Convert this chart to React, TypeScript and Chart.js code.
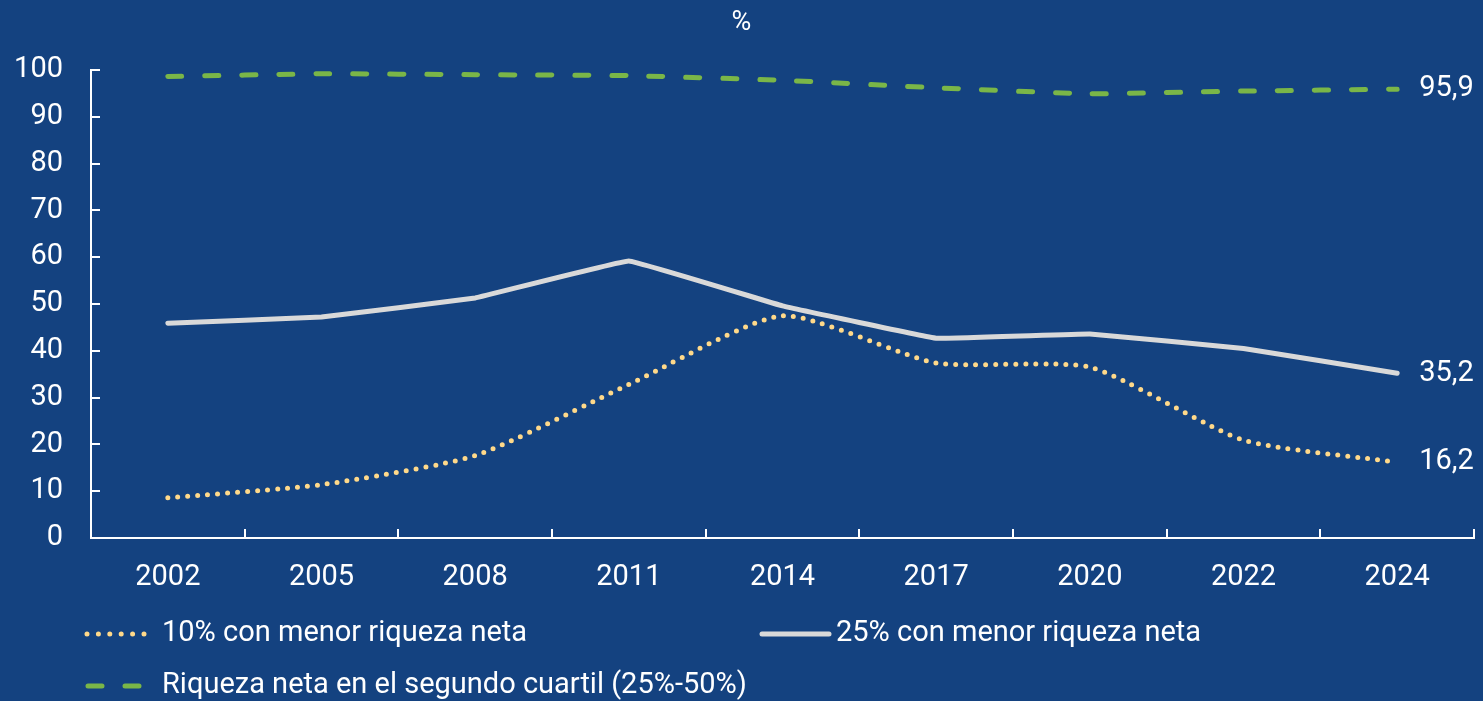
import React, { useEffect, useRef } from 'react';
import { Chart, registerables } from 'chart.js';

Chart.register(...registerables);

const years = ['2002', '2005', '2008', '2011', '2014', '2017', '2020', '2022', '2024'];
const bottom10 = [8.6, 11.4, 17.6, 32.8, 47.5, 37.4, 36.5, 20.9, 16.2];
const bottom25 = [45.9, 47.2, 51.3, 59.2, 49.6, 42.7, 43.6, 40.5, 35.2];
const secondQuartile = [98.6, 99.2, 99.0, 98.8, 97.8, 96.2, 94.9, 95.5, 95.9];
const yTicks = [0, 10, 20, 30, 40, 50, 60, 70, 80, 90, 100];
const endLabels = ['16,2', '35,2', '95,9'];
const seriesLabels = [
  '10% con menor riqueza neta',
  '25% con menor riqueza neta',
  'Riqueza neta en el segundo cuartil (25%-50%)',
];
const unitLabel = '%';

const BG = '#144280';
const YELLOW = '#FFD98A';
const WHITE_LINE = '#D9D9D9';
const GREEN = '#7AB648';
const FONT = 'Roboto, "Noto Sans", sans-serif';
const FS = 29;

const decorPlugin = {
  id: 'decor',
  afterDraw(chart: any) {
    const { ctx, chartArea, scales } = chart;
    const x = scales.x;
    const y = scales.y;
    ctx.save();
    // inward tick marks
    ctx.strokeStyle = '#ffffff';
    ctx.lineWidth = 2;
    ctx.setLineDash([]);
    ctx.beginPath();
    yTicks.forEach((v) => {
      const py = Math.round(y.getPixelForValue(v));
      ctx.moveTo(chartArea.left, py);
      ctx.lineTo(chartArea.left + 9, py);
    });
    for (let i = 1; i <= years.length; i++) {
      const px = Math.round(x.getPixelForValue(i - 0.5));
      ctx.moveTo(px, chartArea.bottom);
      ctx.lineTo(px, chartArea.bottom - 9);
    }
    ctx.stroke();

    // end labels
    ctx.fillStyle = '#ffffff';
    ctx.font = `${FS}px ${FONT}`;
    ctx.textAlign = 'left';
    ctx.textBaseline = 'middle';
    chart.data.datasets.forEach((_ds: any, i: number) => {
      const meta = chart.getDatasetMeta(i);
      const pt = meta.data[meta.data.length - 1];
      ctx.fillText(endLabels[i], pt.x + 22, pt.y);
    });

    // unit label
    ctx.font = `27px ${FONT}`;
    ctx.textAlign = 'center';
    ctx.fillText(unitLabel, chart.width / 2, 23);

    // legend
    ctx.font = `${FS}px ${FONT}`;
    ctx.textAlign = 'left';
    ctx.textBaseline = 'middle';
    const items = [
      { x0: 87, x1: 155, tx: 162, y: 634, color: YELLOW, dash: [0, 11.4] },
      { x0: 762, x1: 829, tx: 836, y: 634, color: WHITE_LINE, dash: [] },
      { x0: 88, x1: 142, tx: 162, y: 686, color: GREEN, dash: [14, 23] },
    ];
    items.forEach((it, i) => {
      ctx.strokeStyle = it.color;
      ctx.lineWidth = 5;
      ctx.lineCap = 'round';
      ctx.setLineDash(it.dash);
      ctx.beginPath();
      ctx.moveTo(it.x0, it.y);
      ctx.lineTo(it.x1, it.y);
      ctx.stroke();
      ctx.setLineDash([]);
      ctx.fillStyle = '#ffffff';
      ctx.fillText(seriesLabels[i], it.tx, it.y);
    });
    ctx.restore();
  },
};

export default function App() {
  const ref = useRef<HTMLCanvasElement | null>(null);

  useEffect(() => {
    document.body.style.margin = '0';
    const canvas = ref.current;
    if (!canvas) return;
    const chart = new Chart(canvas, {
      type: 'line',
      data: {
        labels: years,
        datasets: [
          {
            label: seriesLabels[0],
            data: bottom10,
            borderColor: YELLOW,
            borderWidth: 5,
            borderDash: [0, 10],
            borderCapStyle: 'round',
            pointRadius: 0,
            tension: 0.2,
            fill: false,
          },
          {
            label: seriesLabels[1],
            data: bottom25,
            borderColor: WHITE_LINE,
            borderWidth: 5,
            borderCapStyle: 'round',
            borderJoinStyle: 'round',
            pointRadius: 0,
            tension: 0.05,
            fill: false,
          },
          {
            label: seriesLabels[2],
            data: secondQuartile,
            borderColor: GREEN,
            borderWidth: 5,
            borderDash: [14, 23],
            borderCapStyle: 'round',
            pointRadius: 0,
            tension: 0.1,
            fill: false,
          },
        ],
      },
      options: {
        animation: false,
        responsive: true,
        maintainAspectRatio: false,
        layout: { padding: { top: 70, left: 0, right: 9, bottom: 113 } },
        plugins: {
          legend: { display: false },
          title: { display: false },
          tooltip: { enabled: false },
        },
        scales: {
          x: {
            offset: true,
            grid: { display: false, drawTicks: false, offset: true },
            border: { display: true, color: '#ffffff', width: 2 },
            ticks: {
              color: '#ffffff',
              font: { family: FONT, size: FS },
              padding: 22,
              maxRotation: 0,
              autoSkip: false,
            },
            afterFit: (s: any) => {
              s.height = 50;
            },
          },
          y: {
            min: 0,
            max: 100,
            grid: { display: false, drawTicks: false },
            border: { display: true, color: '#ffffff', width: 2 },
            ticks: {
              stepSize: 10,
              color: '#ffffff',
              font: { family: FONT, size: FS },
              padding: 28,
            },
            afterFit: (s: any) => {
              s.width = 91;
            },
          },
        },
      },
      plugins: [decorPlugin],
    } as any);
    return () => chart.destroy();
  }, []);

  return (
    <div
      style={{
        position: 'fixed',
        left: 0,
        top: 0,
        width: 1483,
        height: 701,
        background: BG,
      }}
    >
      <canvas ref={ref} />
    </div>
  );
}
